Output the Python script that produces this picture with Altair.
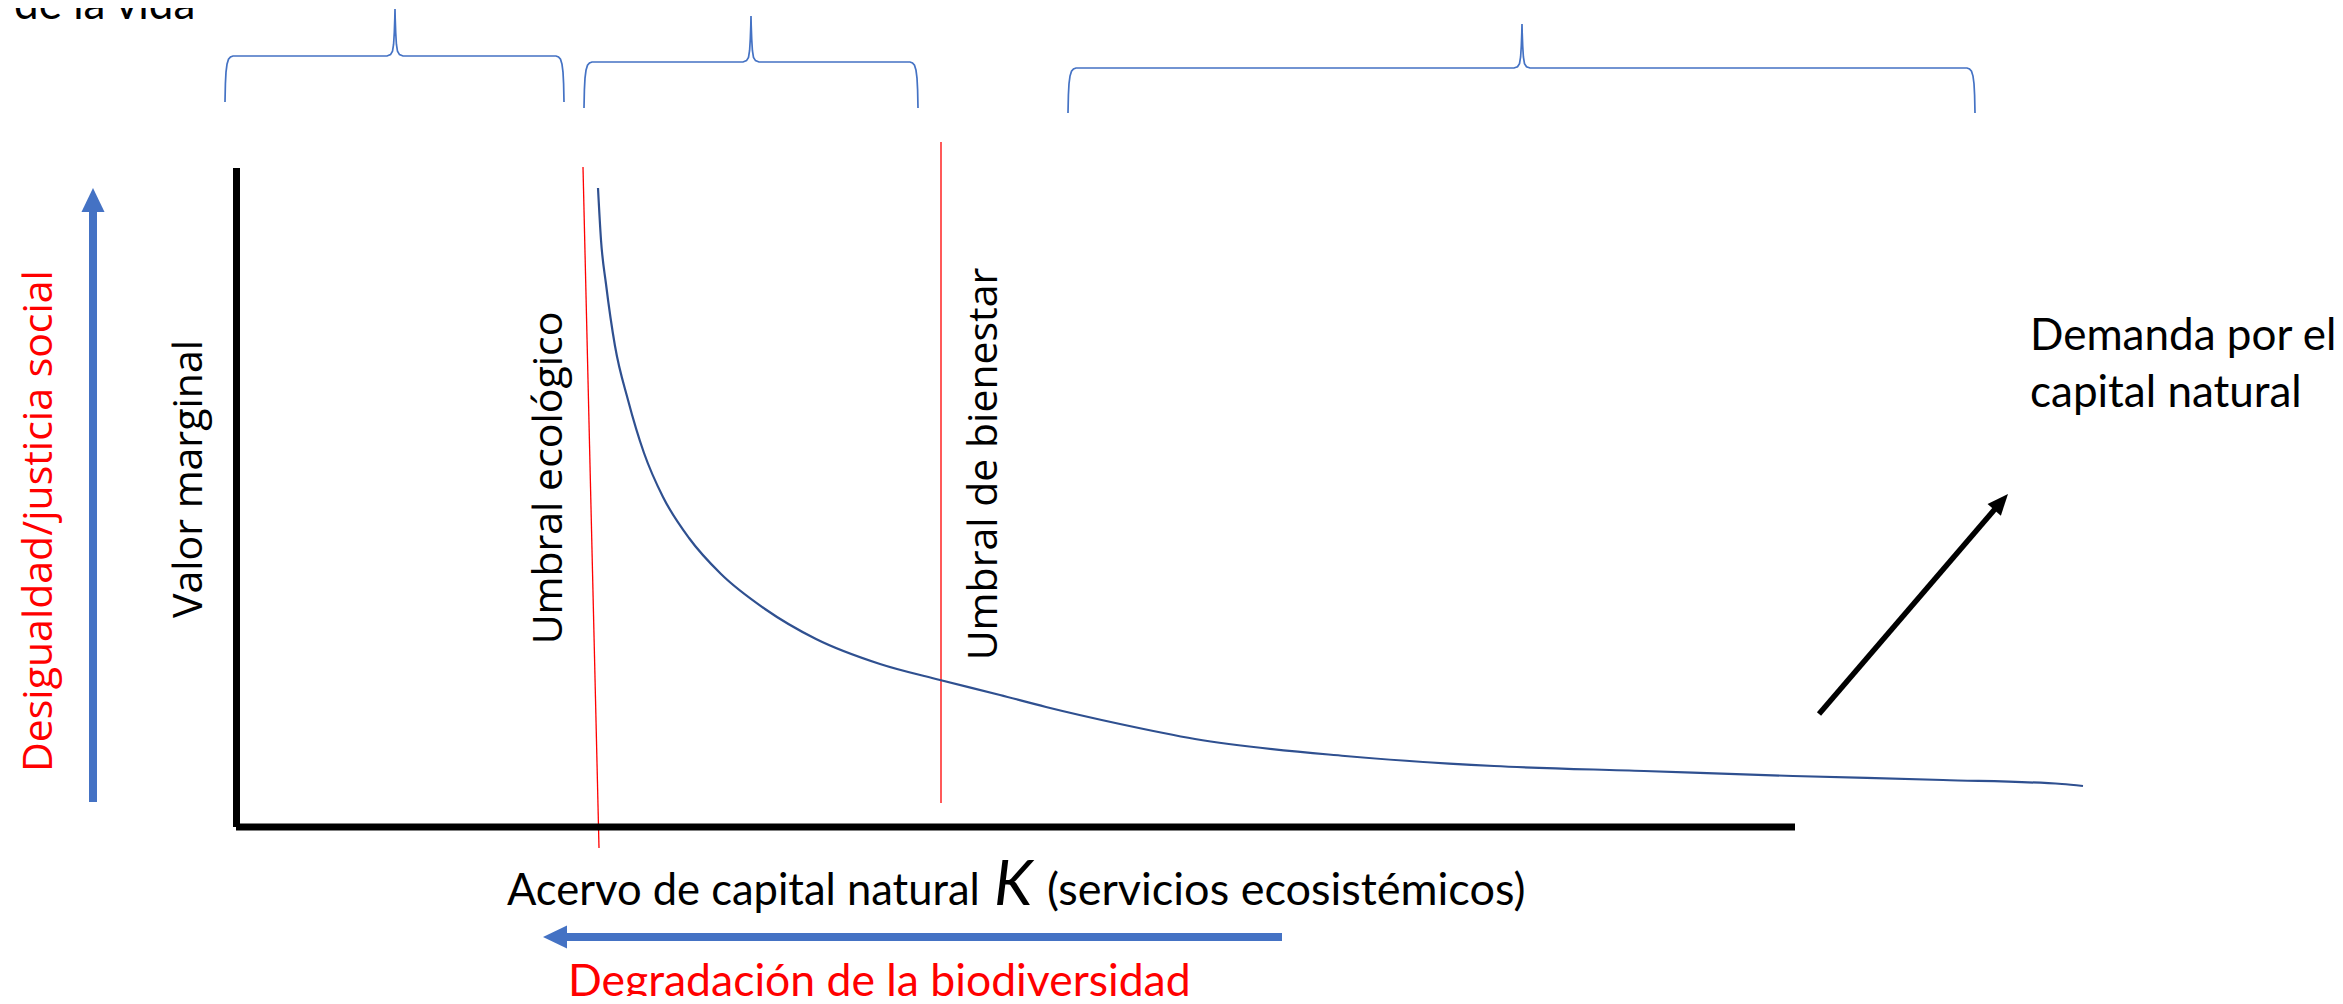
import altair as alt
import pandas as pd

# ---------------- values (page pixel coordinates) ----------------
# demand curve: natural capital stock K (x) vs marginal value (y, measured downward)
curve_k = [598, 601, 606, 615, 628, 644, 663, 689, 721, 765, 816, 880, 940, 1000,
           1046, 1120, 1195, 1345, 1494, 1644, 1793, 1943, 2062, 2083]
curve_v = [188, 240, 284, 346, 400, 453, 497, 538, 574, 609, 639, 664, 680, 695,
           707, 724, 739, 756, 766, 771, 776, 780, 784, 786]

# axes of the diagram (x, y, x2, y2)
axis_x = [236.5, 236]
axis_y = [168, 827]
axis_x2 = [236.5, 1795]
axis_y2 = [827, 827]

# thresholds (red lines)
thr_x = [583, 941]
thr_y = [167, 142]
thr_x2 = [599, 941]
thr_y2 = [848, 803]

# blue arrows: shafts and tips
blue_shaft_x = [93, 1282]
blue_shaft_y = [802, 937]
blue_shaft_x2 = [93, 566]
blue_shaft_y2 = [211, 937]
blue_tip_x = [93, 543]
blue_tip_y = [188, 937]
blue_tip_angle = [0, 270]

# black arrow (demand shift)
black_shaft = dict(x=[1819], y=[714], x2=[1995], y2=[509])
black_tip = dict(x=[2008], y=[494], angle=[41])

# curly brackets: left end, right end, peak x, peak top y, horizontal y, bottom y
br_left = [225, 584, 1068]
br_right = [564, 918, 1975]
br_peak = [395, 751, 1522]
br_top = [9, 16, 24]
br_hor = [56, 62, 68]
br_bot = [102, 108, 113]
# bracket outline: corner (dx px from end, fraction of drop)
corner_dx = [0, 0.4, 1.0, 2.0, 3.5, 5.5, 8.0]
corner_fr = [1.0, 0.6, 0.35, 0.18, 0.07, 0.02, 0.0]
# peak (dx px from peak, fraction of rise)
peak_dx = [-8.0, -4.5, -2.5, -1.4, -0.7, -0.2, 0.0]
peak_fr = [0.0, 0.03, 0.1, 0.25, 0.5, 0.8, 1.0]

# texts
rot_labels = ["Valor marginal", "Umbral ecológico", "Umbral de bienestar"]
rot_x = [202, 562, 997]
rot_y = [479, 478, 464]
red_rot_label = "Desigualdad/justicia social"
red_rot_pos = (52, 521)
demand_lines = ["Demanda por el", "capital natural"]
demand_x = [2030, 2030]
demand_y = [350, 407]
xlab_parts = ["Acervo de capital natural", "K", "(servicios ecosistémicos)"]
xlab_x = [507, 994, 1047]
xlab_y = 905
degr_label = "Degradación de la biodiversidad"
degr_pos = (568, 996)
corner_label = "de la vida"
corner_pos = (14, 19)

# ---------------- build chart ----------------
xs = alt.Scale(domain=[8, 2335], nice=False, zero=False)
ys = alt.Scale(domain=[8, 996], nice=False, zero=False, reverse=True)


def X(f="x"):
    return alt.X(f"{f}:Q", scale=xs, axis=None)


def Y(f="y"):
    return alt.Y(f"{f}:Q", scale=ys, axis=None)


def seg_df(x, y, x2, y2):
    return pd.DataFrame({"x": x, "y": y, "x2": x2, "y2": y2})


def rule_layer(df, color, width):
    return alt.Chart(df).mark_rule(color=color, strokeWidth=width, strokeCap="butt").encode(
        x=X(), y=Y(), x2="x2:Q", y2="y2:Q")


# bracket points
rows = []
for b in range(len(br_left)):
    L, R, P, T, H, B = br_left[b], br_right[b], br_peak[b], br_top[b], br_hor[b], br_bot[b]
    pts = []
    for dx, fr in zip(corner_dx, corner_fr):
        pts.append((L + dx, H + fr * (B - H)))
    for dx, fr in zip(peak_dx, peak_fr):
        pts.append((P + dx, H - fr * (H - T)))
    for dx, fr in zip(reversed(peak_dx[:-1]), reversed(peak_fr[:-1])):
        pts.append((P - dx, H - fr * (H - T)))
    for dx, fr in zip(reversed(corner_dx), reversed(corner_fr)):
        pts.append((R - dx, H + fr * (B - H)))
    for i, (px, py) in enumerate(pts):
        rows.append({"b": b, "i": i, "x": px, "y": py})
br_df = pd.DataFrame(rows)

brackets = alt.Chart(br_df).mark_line(color="#4472C4", strokeWidth=1.7).encode(
    x=X(), y=Y(), detail="b:N", order="i:Q")

curve = alt.Chart(pd.DataFrame({"x": curve_k, "y": curve_v})).mark_line(
    color="#2F5090", strokeWidth=2.2, interpolate="monotone").encode(x=X(), y=Y())

axes = rule_layer(seg_df(axis_x, axis_y, axis_x2, axis_y2), "black", 7)
thresholds = rule_layer(seg_df(thr_x, thr_y, thr_x2, thr_y2), "#FF0000", 1.3)
blue_shafts = rule_layer(seg_df(blue_shaft_x, blue_shaft_y, blue_shaft_x2, blue_shaft_y2), "#4472C4", 8)
black_shaft_l = rule_layer(pd.DataFrame(black_shaft), "black", 5.5)

blue_heads = alt.Chart(pd.DataFrame({"x": blue_tip_x, "y": blue_tip_y, "angle": blue_tip_angle})).mark_point(
    shape="M0,0L-0.48,1L0.48,1Z", filled=True, size=2304, color="#4472C4", opacity=1, strokeWidth=0
).encode(x=X(), y=Y(), angle=alt.Angle("angle:Q", scale=None))

black_head = alt.Chart(pd.DataFrame(black_tip)).mark_point(
    shape="M0,0L-0.42,1L0.42,1Z", filled=True, size=1764, color="black", opacity=1, strokeWidth=0
).encode(x=X(), y=Y(), angle=alt.Angle("angle:Q", scale=None))

rot_text = alt.Chart(pd.DataFrame({"t": rot_labels, "x": rot_x, "y": rot_y})).mark_text(
    angle=270, font="Open Sans", fontSize=41, align="center", baseline="alphabetic", color="black"
).encode(x=X(), y=Y(), text="t:N")

red_rot_text = alt.Chart(pd.DataFrame({"t": [red_rot_label], "x": [red_rot_pos[0]], "y": [red_rot_pos[1]]})).mark_text(
    angle=270, font="Open Sans", fontSize=41, align="center", baseline="alphabetic", color="#FF0000"
).encode(x=X(), y=Y(), text="t:N")

CAL = "Lato"
demand_text = alt.Chart(pd.DataFrame({"t": demand_lines, "x": demand_x, "y": demand_y})).mark_text(
    font=CAL, fontSize=44, align="left", baseline="alphabetic", color="black"
).encode(x=X(), y=Y(), text="t:N")

xlab_a = alt.Chart(pd.DataFrame({"t": [xlab_parts[0]], "x": [xlab_x[0]], "y": [xlab_y]})).mark_text(
    font=CAL, fontSize=43.5, align="left", baseline="alphabetic", color="black"
).encode(x=X(), y=Y(), text="t:N")

xlab_c = alt.Chart(pd.DataFrame({"t": [xlab_parts[2]], "x": [xlab_x[2]], "y": [xlab_y]})).mark_text(
    font=CAL, fontSize=45, align="left", baseline="alphabetic", color="black"
).encode(x=X(), y=Y(), text="t:N")

xlab_k = alt.Chart(pd.DataFrame({"t": [xlab_parts[1]], "x": [xlab_x[1]], "y": [xlab_y]})).mark_text(
    font=CAL, fontSize=62, fontStyle="italic", align="left", baseline="alphabetic", color="black"
).encode(x=X(), y=Y(), text="t:N")

degr_text = alt.Chart(pd.DataFrame({"t": [degr_label], "x": [degr_pos[0]], "y": [degr_pos[1]]})).mark_text(
    font=CAL, fontSize=44.5, align="left", baseline="alphabetic", color="#FF0000"
).encode(x=X(), y=Y(), text="t:N")

corner_text = alt.Chart(pd.DataFrame({"t": [corner_label], "x": [corner_pos[0]], "y": [corner_pos[1]]})).mark_text(
    font=CAL, fontSize=44, align="left", baseline="alphabetic", color="black"
).encode(x=X(), y=Y(), text="t:N")

chart = alt.layer(
    brackets, thresholds, curve, axes, blue_shafts, blue_heads, black_shaft_l, black_head,
    rot_text, red_rot_text, demand_text, xlab_a, xlab_c, xlab_k, degr_text, corner_text
).properties(
    width=2327, height=988, padding=0, autosize=alt.AutoSizeParams(type="none")
).configure_view(stroke=None)

chart.save("out.html", embed_options={"renderer": "svg", "actions": False})
